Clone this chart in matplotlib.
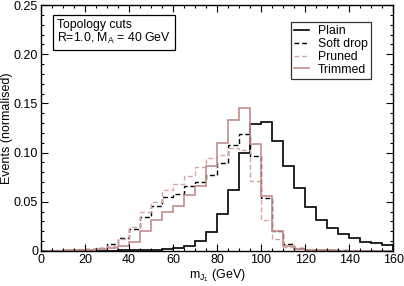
import matplotlib
matplotlib.use("Agg")
import matplotlib.pyplot as plt
from matplotlib.ticker import MultipleLocator, FixedLocator
import numpy as np

plt.rcParams["font.family"] = ["Liberation Sans", "DejaVu Sans"]
plt.rcParams["mathtext.fontset"] = "custom"
plt.rcParams["mathtext.rm"] = "Liberation Sans"
plt.rcParams["mathtext.it"] = "Liberation Sans"

# bin edges in m_J1 (GeV), width 5
bin_edges = np.arange(0, 165, 5)

plain = [0, 0, 0.0002, 0.0003, 0.0004, 0.0005, 0.0005, 0.0006, 0.0008, 0.001,
         0.0015, 0.002, 0.003, 0.005, 0.010, 0.019, 0.038, 0.062, 0.100, 0.129,
         0.131, 0.112, 0.086, 0.064, 0.045, 0.031, 0.023, 0.017, 0.013, 0.009,
         0.008, 0.006]
soft_drop = [0, 0.0005, 0.001, 0.0015, 0.002, 0.003, 0.007, 0.013, 0.022, 0.035,
             0.046, 0.055, 0.058, 0.066, 0.070, 0.077, 0.089, 0.108, 0.119, 0.097,
             0.054, 0.020, 0.007, 0.003, 0.0015, 0.001, 0.0008, 0.0006, 0.0005,
             0.0004, 0.0003, 0.0003]
pruned = [0, 0.001, 0.0015, 0.002, 0.002, 0.003, 0.005, 0.012, 0.024, 0.040,
          0.050, 0.062, 0.068, 0.076, 0.085, 0.095, 0.098, 0.105, 0.103, 0.071,
          0.032, 0.012, 0.004, 0.002, 0.001, 0.0008, 0.0006, 0.0005, 0.0004,
          0.0003, 0.0003, 0.0002]
trimmed = [0, 0.0005, 0.001, 0.001, 0.0015, 0.002, 0.003, 0.005, 0.009, 0.020,
           0.031, 0.040, 0.046, 0.057, 0.066, 0.086, 0.110, 0.133, 0.145, 0.109,
           0.056, 0.020, 0.005, 0.002, 0.001, 0.0008, 0.0006, 0.0005, 0.0004,
           0.0003, 0.0002, 0.0002]

y_ticks = [0, 0.05, 0.10, 0.15, 0.20, 0.25]
y_tick_labels = ["0", "0.05", "0.10", "0.15", "0.20", "0.25"]

fig = plt.figure(figsize=(4.04, 2.86), dpi=100)
ax = fig.add_axes([0.1015, 0.1224, 0.8715, 0.860])

ax.stairs(plain, bin_edges, color="black", lw=1.2, label="Plain")
ax.stairs(soft_drop, bin_edges, color="black", lw=1.0, ls=(0, (3.5, 2)), label="Soft drop")
ax.stairs(pruned, bin_edges, color="#d8a4a4", lw=1.0, ls=(0, (3.5, 2)), label="Pruned")
ax.stairs(trimmed, bin_edges, color="#c48e8e", lw=1.2, label="Trimmed")

ax.set_xlim(0, 160)
ax.set_ylim(0, 0.25)
ax.xaxis.set_major_locator(MultipleLocator(20))
ax.xaxis.set_minor_locator(MultipleLocator(5))
ax.yaxis.set_major_locator(FixedLocator(y_ticks))
ax.set_yticklabels(y_tick_labels)
ax.yaxis.set_minor_locator(MultipleLocator(0.01))
ax.tick_params(which="both", direction="in", top=True, right=True, labelsize=9, width=0.8, pad=2)
ax.tick_params(which="major", length=5)
ax.tick_params(which="minor", length=2.5)
for s in ax.spines.values():
    s.set_linewidth(1.0)

ax.set_xlabel("m$_{J_1}$ (GeV)", fontsize=9, labelpad=1)
ax.set_ylabel("Events (normalised)", fontsize=9)
ax.yaxis.set_label_coords(-0.08, 0.5)

ax.text(0.046, 0.945, "Topology cuts\nR=1.0, M$_A$ = 40 GeV", transform=ax.transAxes,
        fontsize=8.8, va="top", ha="left", linespacing=1.0,
        bbox=dict(boxstyle="square,pad=0.35", facecolor="white", edgecolor="black", linewidth=0.9))

leg = ax.legend(loc="upper right", bbox_to_anchor=(0.9375, 0.931), fontsize=8.8, frameon=True,
                fancybox=False, edgecolor="black", handlelength=1.2, handletextpad=0.75,
                labelspacing=0.06, borderpad=0.28, borderaxespad=0)
leg.get_frame().set_linewidth(0.9)

fig.savefig("out.png", dpi=100)
plt.close(fig)
